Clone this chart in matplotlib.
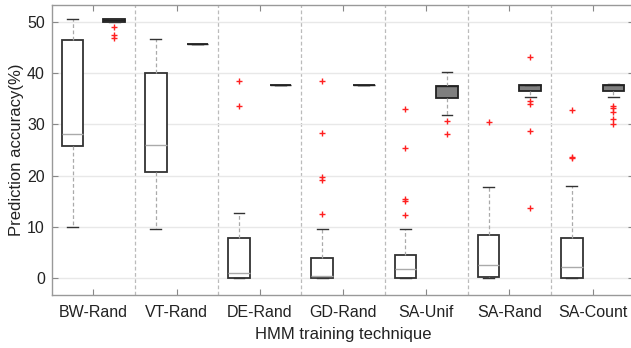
import matplotlib.pyplot as plt

categories = ['BW-Rand', 'VT-Rand', 'DE-Rand', 'GD-Rand', 'SA-Unif', 'SA-Rand', 'SA-Count']

# white boxes (left in each group): whislo, q1, med, q3, whishi, fliers
white_whislo = [10.0, 9.5, 0.0, 0.0, 0.0, 0.0, 0.0]
white_q1 = [25.8, 20.8, 0.0, 0.0, 0.1, 0.25, 0.0]
white_med = [28.2, 26.0, 1.0, 0.5, 1.7, 2.5, 2.2]
white_q3 = [46.4, 40.0, 7.8, 4.0, 4.6, 8.5, 7.8]
white_whishi = [50.5, 46.7, 12.7, 9.6, 9.5, 17.8, 18.0]
white_fliers = [[], [], [38.4, 33.5], [38.4, 28.3, 19.8, 19.1, 12.6],
                [32.9, 25.3, 15.4, 15.0, 12.3], [30.5], [32.8, 23.7, 23.4]]

# gray boxes (right in each group)
gray_whislo = [50.0, 45.7, 37.6, 37.6, 31.8, 35.3, 35.3]
gray_q1 = [50.0, 45.7, 37.6, 37.6, 35.1, 36.5, 36.5]
gray_med = [50.3, 45.7, 37.6, 37.6, 37.5, 37.6, 37.6]
gray_q3 = [50.6, 45.7, 37.6, 37.6, 37.5, 37.6, 37.6]
gray_whishi = [50.6, 45.7, 37.6, 37.6, 40.3, 37.6, 37.8]
gray_fliers = [[49.0, 47.5, 46.8], [], [], [], [30.7, 28.1],
               [43.2, 34.6, 34.0, 28.7, 13.6], [33.6, 33.1, 32.4, 31.1, 30.1]]


def make_stats(whislo, q1, med, q3, whishi, fliers):
    stats = []
    for i in range(len(whislo)):
        stats.append({'whislo': whislo[i], 'q1': q1[i], 'med': med[i], 'q3': q3[i],
                      'whishi': whishi[i], 'fliers': fliers[i]})
    return stats


plt.rcParams['font.family'] = ['Liberation Sans', 'DejaVu Sans']

fig = plt.figure(figsize=(6.31, 3.48), dpi=100)
ax = fig.add_axes([0.082, 0.152, 0.923, 0.834])

pos = list(range(1, len(categories) + 1))
white_pos = [p - 0.25 for p in pos]
gray_pos = [p + 0.25 for p in pos]

edge = '#333333'
flier_style = dict(marker='+', markeredgecolor='#ff2020', markersize=4, markeredgewidth=1.0, linestyle='none')
whisker_style = dict(color='#aaaaaa', linestyle=(0, (3, 2)), linewidth=0.9)
cap_style = dict(color='#333333', linewidth=1.0)

ax.bxp(make_stats(white_whislo, white_q1, white_med, white_q3, white_whishi, white_fliers),
       positions=white_pos, widths=0.26, patch_artist=True,
       boxprops=dict(facecolor='white', edgecolor=edge, linewidth=1.3),
       medianprops=dict(color='#aaaaaa', linewidth=1.0),
       whiskerprops=whisker_style, capprops=cap_style, flierprops=flier_style,
       capwidths=0.13)

ax.bxp(make_stats(gray_whislo, gray_q1, gray_med, gray_q3, gray_whishi, gray_fliers),
       positions=gray_pos, widths=0.26, patch_artist=True,
       boxprops=dict(facecolor='#7f7f7f', edgecolor='#222222', linewidth=1.3),
       medianprops=dict(color='#222222', linewidth=1.0),
       whiskerprops=whisker_style, capprops=cap_style, flierprops=flier_style,
       capwidths=0.13)

for x in range(1, len(categories)):
    ax.axvline(x + 0.5, color='#bbbbbb', linestyle=(0, (3, 2)), linewidth=0.9, zorder=0)

ax.set_xlim(0.5, 7.5)
ax.set_ylim(-3.3, 53.3)
ax.set_xticks(pos)
ax.set_xticklabels(categories)
ax.set_yticks([0, 10, 20, 30, 40, 50])
ax.yaxis.grid(True, color='#e8e8e8', linewidth=1.0)
ax.set_axisbelow(True)

ax.tick_params(direction='in', top=True, right=True, length=4, color='#888888',
               labelsize=11.5, labelcolor='#222222')
ax.tick_params(axis='x', pad=7)
ax.tick_params(axis='y', pad=5)
for s in ax.spines.values():
    s.set_color('#999999')
    s.set_linewidth(1.0)

ax.set_xlabel('HMM training technique', fontsize=12, color='#222222', labelpad=5)
ax.set_ylabel('Prediction accuracy(%)', fontsize=12, color='#222222', labelpad=2)

fig.savefig('out.png', dpi=100)
